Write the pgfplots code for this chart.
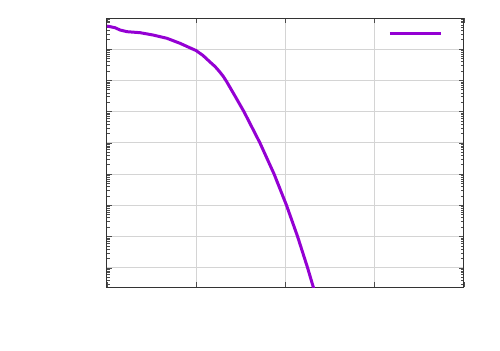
\documentclass[border=0pt]{standalone}
\usepackage{pgfplots}
\pgfplotsset{compat=1.18}
\definecolor{dviolet}{HTML}{9400D3}
\begin{document}
\begin{tikzpicture}
% fixed page: 500x350 px at 0.5pt per px, axis box 357x269 px
\useasboundingbox (-53.5pt,-31.5pt) rectangle (196.5pt,143.5pt);
\begin{axis}[
  scale only axis,
  width=178.5pt, height=134.5pt,
  anchor=south west, at={(0pt,0pt)},
  ymode=log,
  xmin=0, xmax=4, ymin=2.45e-9, ymax=1,
  xtick={0,1,2,3,4},
  ytick={1e-8,1e-7,1e-6,1e-5,1e-4,1e-3,1e-2,1e-1,1},
  minor ytick={3e-9,4e-9,5e-9,6e-9,7e-9,8e-9,9e-9,
    2e-8,3e-8,4e-8,5e-8,6e-8,7e-8,8e-8,9e-8,
    2e-7,3e-7,4e-7,5e-7,6e-7,7e-7,8e-7,9e-7,
    2e-6,3e-6,4e-6,5e-6,6e-6,7e-6,8e-6,9e-6,
    2e-5,3e-5,4e-5,5e-5,6e-5,7e-5,8e-5,9e-5,
    2e-4,3e-4,4e-4,5e-4,6e-4,7e-4,8e-4,9e-4,
    2e-3,3e-3,4e-3,5e-3,6e-3,7e-3,8e-3,9e-3,
    2e-2,3e-2,4e-2,5e-2,6e-2,7e-2,8e-2,9e-2,
    2e-1,3e-1,4e-1,5e-1,6e-1,7e-1,8e-1,9e-1},
  xticklabels={}, yticklabels={},
  grid=major,
  major grid style={line width=0.5pt, color=black!17},
  minor grid style={draw=none},
  axis line style={line width=0.5pt, black!80},
  every tick/.style={black!70, line width=0.4pt},
  major tick length=2.5pt, minor tick length=1.4pt,
  legend image code/.code={\draw[#1] (0pt,0pt) -- (25.5pt,0pt);},
  legend style={draw=none, fill=none, at={(rel axis cs:0.945,0.948)}, anchor=north east,
    inner sep=0pt, outer sep=0pt, nodes={inner sep=0pt}},
]
\addplot[dviolet, line width=1.5pt, line join=round] coordinates {
  (0.000, 5.54e-1)
  (0.090, 4.89e-1)
  (0.146, 4.13e-1)
  (0.224, 3.65e-1)
  (0.370, 3.39e-1)
  (0.515, 2.86e-1)
  (0.672, 2.24e-1)
  (0.818, 1.55e-1)
  (0.930, 1.11e-1)
  (0.997, 9.12e-2)
  (1.076, 6.31e-2)
  (1.154, 3.91e-2)
  (1.210, 2.81e-2)
  (1.255, 2.01e-2)
  (1.300, 1.39e-2)
  (1.341, 9.16e-3)
  (1.434, 3.19e-3)
  (1.535, 1.00e-3)
  (1.714, 1.00e-4)
  (1.873, 1.00e-5)
  (2.012, 1.00e-6)
  (2.136, 1.00e-7)
  (2.248, 1.00e-8)
  (2.362, 7.90e-10)
};
\addlegendentry{}
\end{axis}
\end{tikzpicture}
\end{document}
